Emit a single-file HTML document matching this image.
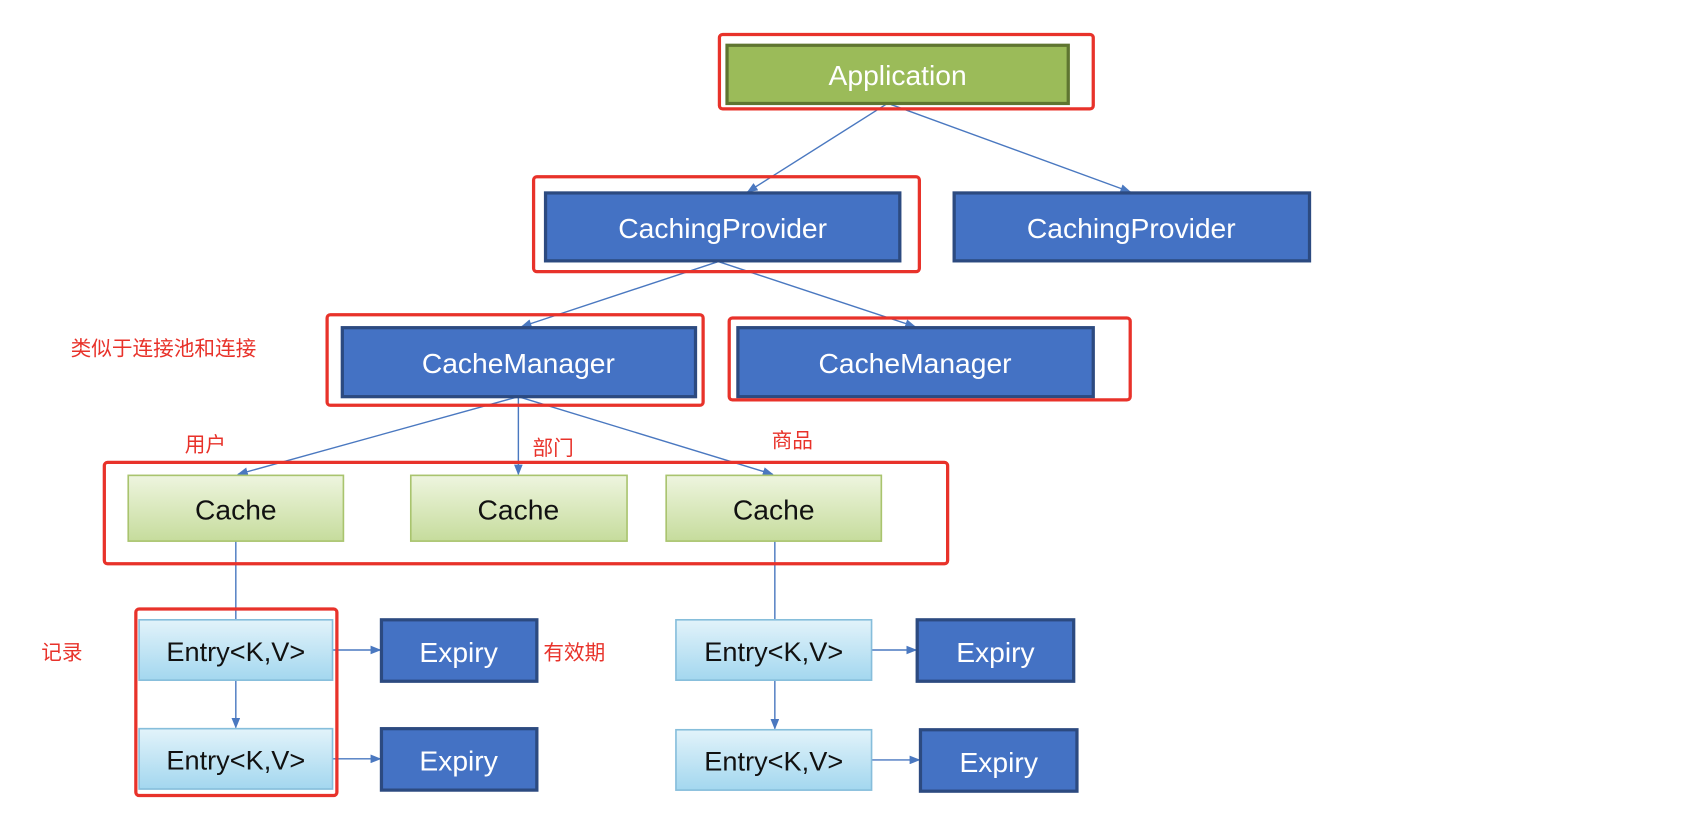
<!DOCTYPE html>
<html><head><meta charset="utf-8"><style>
html,body{margin:0;padding:0;background:#fff;}
svg{display:block;}
text{font-family:"Liberation Sans","Noto Sans CJK SC",sans-serif;}
</style></head><body>
<svg width="1704" height="830" viewBox="0 0 1568 770" preserveAspectRatio="none" xmlns="http://www.w3.org/2000/svg">
<defs>
<linearGradient id="gg" x1="0" y1="0" x2="0" y2="1"><stop offset="0" stop-color="#eef5df"/><stop offset="1" stop-color="#c6dc9c"/></linearGradient>
<linearGradient id="bg" x1="0" y1="0" x2="0" y2="1"><stop offset="0" stop-color="#e2f3fa"/><stop offset="1" stop-color="#a3d7ef"/></linearGradient>
<marker id="a" markerWidth="10" markerHeight="8" refX="9" refY="4" orient="auto" markerUnits="userSpaceOnUse"><path d="M0,0 L10,4 L0,8 z" fill="#4a78c0"/></marker>
</defs>
<rect width="1568" height="770" fill="#fff"/>
<g stroke="#4a78c0" stroke-width="1.3" fill="none">
<line x1="815" y1="97" x2="688" y2="178" marker-end="url(#a)"/>
<line x1="820" y1="97" x2="1040" y2="178" marker-end="url(#a)"/>
<line x1="660" y1="243" x2="480" y2="303" marker-end="url(#a)"/>
<line x1="662" y1="243" x2="842" y2="303" marker-end="url(#a)"/>
<line x1="477" y1="368" x2="219" y2="440" marker-end="url(#a)"/>
<line x1="477" y1="368" x2="477" y2="440" marker-end="url(#a)"/>
<line x1="477" y1="368" x2="711" y2="440" marker-end="url(#a)"/>
<line x1="217" y1="502" x2="217" y2="575"/>
<line x1="713" y1="502" x2="713" y2="575"/>
<line x1="217" y1="631" x2="217" y2="675" marker-end="url(#a)"/>
<line x1="713" y1="631" x2="713" y2="676" marker-end="url(#a)"/>
<line x1="306" y1="603" x2="350" y2="603" marker-end="url(#a)"/>
<line x1="306" y1="704" x2="350" y2="704" marker-end="url(#a)"/>
<line x1="802" y1="603" x2="843" y2="603" marker-end="url(#a)"/>
<line x1="802" y1="705" x2="846" y2="705" marker-end="url(#a)"/>
</g>
<rect x="669" y="42" width="314" height="54" fill="#9bbb59" stroke="#5f7530" stroke-width="3"/>
<text x="826" y="79" font-size="26" fill="#fff" text-anchor="middle">Application</text>
<g fill="#4472c4" stroke="#2c4a80" stroke-width="3">
<rect x="502" y="179" width="326" height="63"/>
<rect x="878" y="179" width="327" height="63"/>
<rect x="315" y="304" width="325" height="64"/>
<rect x="679" y="304" width="327" height="64"/>
<rect x="351" y="575" width="143" height="57"/>
<rect x="351" y="676" width="143" height="57"/>
<rect x="844" y="575" width="144" height="57"/>
<rect x="847" y="677" width="144" height="57"/>
</g>
<g fill="#fff" font-size="26" text-anchor="middle">
<text x="665" y="221">CachingProvider</text>
<text x="1041" y="221">CachingProvider</text>
<text x="477" y="346">CacheManager</text>
<text x="842" y="346">CacheManager</text>
<text x="422" y="614">Expiry</text>
<text x="422" y="715">Expiry</text>
<text x="916" y="614">Expiry</text>
<text x="919" y="716">Expiry</text>
</g>
<g fill="url(#gg)" stroke="#a9c46e" stroke-width="1.5">
<rect x="118" y="441" width="198" height="61"/>
<rect x="378" y="441" width="199" height="61"/>
<rect x="613" y="441" width="198" height="61"/>
</g>
<g fill="#111" font-size="26" text-anchor="middle">
<text x="217" y="482">Cache</text>
<text x="477" y="482">Cache</text>
<text x="712" y="482">Cache</text>
</g>
<g fill="url(#bg)" stroke="#86bedb" stroke-width="1.5">
<rect x="128" y="575" width="178" height="56"/>
<rect x="128" y="676" width="178" height="56"/>
<rect x="622" y="575" width="180" height="56"/>
<rect x="622" y="677" width="180" height="56"/>
</g>
<g fill="#111" font-size="25" text-anchor="middle">
<text x="217" y="613">Entry&lt;K,V&gt;</text>
<text x="217" y="714">Entry&lt;K,V&gt;</text>
<text x="712" y="613">Entry&lt;K,V&gt;</text>
<text x="712" y="715">Entry&lt;K,V&gt;</text>
</g>
<g fill="none" stroke="#e8322a" stroke-width="3">
<rect x="662" y="32" width="344" height="69" rx="3"/>
<rect x="491" y="164" width="355" height="88" rx="3"/>
<rect x="301" y="292" width="346" height="84" rx="3"/>
<rect x="671" y="295" width="369" height="76" rx="3"/>
<rect x="96" y="429" width="776" height="94" rx="3"/>
<rect x="125" y="565" width="185" height="173" rx="3"/>
</g>
<g fill="#e8322a" font-size="19">
<text x="65" y="330">类似于连接池和连接</text>
<text x="170" y="419">用户</text>
<text x="490" y="422">部门</text>
<text x="710" y="415">商品</text>
<text x="38" y="612">记录</text>
<text x="500" y="612">有效期</text>
</g>
</svg>
</body></html>
